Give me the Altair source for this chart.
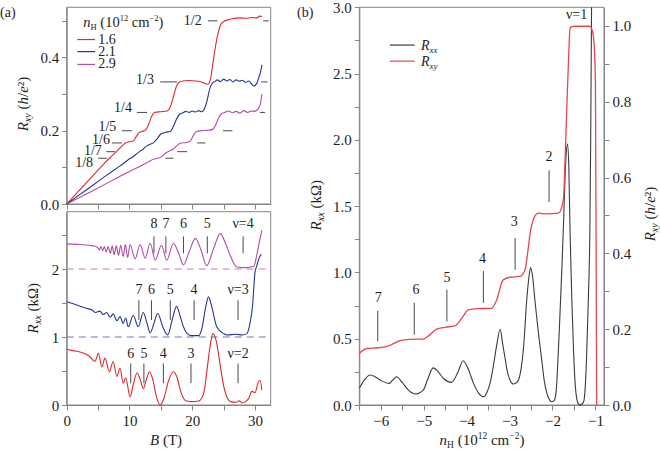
import altair as alt
import pandas as pd

FONT = "Liberation Serif"
AXC = "#858585"
TXT = "#1e1e1e"
RED = "#e3262c"
BLUE = "#283597"
PURP = "#b04ca6"
BLK = "#3b3b3b"
PINK = "#e8464e"
MARK = "#4a4a4a"

# ---------------- data ----------------
# (a) upper: R_xy (h/e^2) vs B (T) for n_H = 1.6, 2.1, 2.9
rxy16_B = [0, 2, 4, 6, 7.0, 7.6, 8.2, 8.8, 9.4, 10.0, 10.6, 11.0, 11.5, 12.0, 12.5, 13.0, 13.5, 14.0, 15.0, 16.0,
           16.5, 17.0, 17.5, 18.0, 18.5, 19.5, 20.5, 21.5, 22.0, 22.5, 22.9, 23.3, 23.7, 24.1, 24.5, 25.0, 25.5,
           26.5, 27.5, 28.5, 29.5, 30.3, 30.8, 31.1]
rxy16_v = [0, 0.037, 0.074, 0.111, 0.128, 0.138, 0.148, 0.158, 0.167, 0.170, 0.172, 0.182, 0.194, 0.198, 0.201,
           0.215, 0.238, 0.250, 0.252, 0.254, 0.265, 0.293, 0.322, 0.333, 0.336, 0.337, 0.336, 0.333, 0.329, 0.327,
           0.340, 0.385, 0.430, 0.465, 0.488, 0.498, 0.502, 0.506, 0.508, 0.507, 0.509, 0.508, 0.513, 0.512]
rxy21_B = [0, 3, 6, 8, 9.0, 9.8, 10.4, 11.0, 11.6, 12.2, 12.7, 13.3, 13.8, 14.4, 15.0, 15.8, 16.5, 17.0, 17.5,
           18.0, 18.5, 19.0, 19.5, 20.0, 20.5, 21.0, 21.5, 22.0, 22.4, 22.8, 23.2, 23.6, 24.0, 24.5, 25.0, 25.5,
           26.0, 26.5, 27.0, 27.5, 28.0, 28.5, 29.0, 29.3, 29.8, 30.3, 30.6, 30.8, 31.1]
rxy21_v = [0, 0.037, 0.074, 0.098, 0.110, 0.121, 0.127, 0.135, 0.143, 0.150, 0.158, 0.163, 0.167, 0.178, 0.191,
           0.196, 0.198, 0.212, 0.232, 0.245, 0.249, 0.253, 0.250, 0.254, 0.251, 0.255, 0.252, 0.262, 0.285,
           0.315, 0.330, 0.334, 0.339, 0.334, 0.341, 0.336, 0.340, 0.333, 0.339, 0.335, 0.338, 0.332, 0.336,
           0.331, 0.322, 0.330, 0.345, 0.355, 0.380]
rxy29_B = [0, 4, 8, 10, 12, 13.0, 13.8, 14.5, 15.2, 15.8, 16.4, 17.0, 17.6, 18.1, 19.0, 19.7, 20.2, 20.7, 21.5,
           22.5, 23.2, 23.7, 24.2, 24.7, 25.2, 25.8, 26.4, 27.0, 27.6, 28.2, 28.8, 29.4, 29.8, 30.4, 30.8, 31.1]
rxy29_v = [0, 0.035, 0.071, 0.089, 0.106, 0.115, 0.122, 0.125, 0.130, 0.140, 0.145, 0.150, 0.160, 0.166, 0.168,
           0.172, 0.188, 0.198, 0.200, 0.201, 0.203, 0.215, 0.235, 0.247, 0.250, 0.254, 0.249, 0.253, 0.248,
           0.255, 0.250, 0.254, 0.253, 0.258, 0.270, 0.300]

# (a) lower: R_xx (kOhm, curves offset by 0, 1, 2) vs B (T)
rxx16_B = [0, 1.0, 2.1, 3.0, 3.7, 4.5, 5.05, 5.6, 6.1, 6.8, 7.4, 8.0, 8.5, 9.0, 9.4, 10.1, 10.6, 11.2, 11.7, 12.2,
           12.7, 13.2, 13.7, 14.3, 14.9, 15.5, 16.2, 17.0, 17.6, 18.1, 18.6, 19.1, 20.0, 21.0, 21.5, 21.9, 22.4,
           22.9, 23.3, 23.8, 24.5, 25.0, 25.5, 26.1, 27.0, 27.5, 28.0, 28.5, 29.0, 29.5, 30.0, 30.5, 30.8, 31.1]
rxx16_v = [0.82, 0.80, 0.78, 0.75, 0.71, 0.64, 0.76, 0.56, 0.69, 0.49, 0.64, 0.42, 0.54, 0.32, 0.40, 0.12, 0.30,
           0.47, 0.38, 0.24, 0.38, 0.49, 0.38, 0.12, 0.0, 0.10, 0.35, 0.49, 0.40, 0.22, 0.10, 0.06, 0.05, 0.06,
           0.10, 0.20, 0.55, 0.90, 1.05, 0.95, 0.56, 0.28, 0.12, 0.05, 0.04, 0.06, 0.03, 0.05, 0.10, 0.20, 0.18,
           0.33, 0.36, 0.22]
rxx21_B = [0, 1.6, 3.2, 4.0, 4.6, 5.3, 5.8, 6.4, 6.9, 7.4, 8.0, 8.5, 9.0, 9.4, 9.8, 10.6, 11.4, 12.2, 12.8, 13.3,
           13.9, 14.5, 15.3, 16.1, 16.8, 17.5, 18.1, 18.6, 19.2, 19.9, 21.0, 21.6, 22.1, 22.6, 23.1, 23.9, 25.0,
           25.5, 27.0, 28.0, 28.7, 29.2, 29.6, 30.0, 30.3, 30.6, 31.0]
rxx21_v = [1.52, 1.47, 1.42, 1.40, 1.36, 1.38, 1.33, 1.36, 1.29, 1.34, 1.24, 1.30, 1.20, 1.28, 1.15, 1.32, 1.15,
           1.36, 1.20, 1.06, 1.20, 1.35, 1.15, 1.03, 1.25, 1.45, 1.30, 1.15, 1.05, 1.02, 1.02, 1.15, 1.42, 1.59,
           1.45, 1.15, 1.05, 1.03, 1.04, 1.03, 1.05, 1.20, 1.45, 1.95, 2.05, 2.15, 2.22]
rxx29_B = [0, 2.1, 4.2, 4.9, 5.2, 5.45, 5.75, 6.0, 6.3, 6.6, 6.95, 7.25, 7.55, 7.9, 8.25, 8.6, 9.0, 9.35, 9.7,
           10.1, 10.9, 11.7, 12.5, 13.3, 14.1, 15.1, 15.95, 17.0, 17.8, 18.6, 19.5, 20.5, 21.4, 22.3, 23.4, 24.45,
           25.3, 26.0, 27.1, 28.5, 29.8, 30.3, 30.7, 31.1]
rxx29_v = [2.37, 2.36, 2.34, 2.32, 2.28, 2.33, 2.27, 2.33, 2.25, 2.33, 2.23, 2.34, 2.21, 2.34, 2.20, 2.35, 2.18,
           2.36, 2.17, 2.36, 2.15, 2.36, 2.16, 2.38, 2.13, 2.35, 2.13, 2.38, 2.24, 2.06, 2.25, 2.45, 2.28, 2.05,
           2.30, 2.52, 2.38, 2.21, 2.03, 2.02, 2.04, 2.21, 2.40, 2.57]

# fraction labels and plateau markers (upper a)
frac_text = ["1/2", "1/3", "1/4", "1/5", "1/6", "1/7", "1/8"]
frac_val = [0.5, 1 / 3, 0.25, 0.2, 1 / 6, 1 / 7, 0.125]
frac_lab_B = [21.5, 13.9, 10.4, 7.9, 6.9, 5.6, 4.2]
frac_lab_v = [0.500, 0.338, 0.261, 0.211, 0.176, 0.145, 0.113]
frac_l0 = [22.5, 14.9, 11.2, 8.8, 7.2, 6.3, 5.0]
frac_l1 = [24.0, 17.6, 12.8, 10.4, 8.8, 7.7, 6.4]
frac_r0 = [31.3, 31.0, 30.8, 24.9, 20.8, 17.6, 15.7]
frac_r1 = [32.2, 32.0, 31.6, 26.4, 22.1, 19.2, 17.0]

# filling factor labels (lower a)
nu29_B = [13.9, 15.8, 18.6, 22.4, 28.1]
nu29_t = ["8", "7", "6", "5", "ν=4"]
nu21_B = [11.5, 13.5, 16.5, 20.3, 27.3]
nu21_t = ["7", "6", "5", "4", "ν=3"]
nu16_B = [10.2, 12.3, 15.4, 19.8, 27.3]
nu16_t = ["6", "5", "4", "3", "ν=2"]

# (b) R_xx (kOhm) and R_xy (h/e^2) vs n_H (1e12 cm^-2)
b_n_xx = [-6.5, -6.38, -6.25, -6.14, -6.02, -5.80, -5.72, -5.63, -5.50, -5.35, -5.20, -5.01, -4.90, -4.78, -4.66,
          -4.54, -4.35, -4.20, -4.08, -3.96, -3.84, -3.72, -3.61, -3.53, -3.45, -3.38, -3.30, -3.22, -3.16, -3.11,
          -3.05, -2.99, -2.91, -2.83, -2.75, -2.67, -2.60, -2.55, -2.51, -2.46, -2.41, -2.33, -2.25, -2.19, -2.13,
          -2.06, -2.02, -1.97, -1.94, -1.91, -1.88, -1.83, -1.78, -1.74, -1.71, -1.68, -1.65, -1.62, -1.59, -1.55,
          -1.51, -1.47, -1.43, -1.40, -1.36, -1.28, -1.24, -1.20, -1.16, -1.13, -1.11, -1.09]
b_rxx = [0.126, 0.19, 0.226, 0.215, 0.19, 0.163, 0.19, 0.213, 0.17, 0.11, 0.083, 0.113, 0.2, 0.28, 0.25, 0.2,
         0.171, 0.25, 0.334, 0.27, 0.163, 0.09, 0.063, 0.093, 0.17, 0.29, 0.45, 0.571, 0.46, 0.364, 0.25, 0.189,
         0.158, 0.17, 0.239, 0.45, 0.792, 0.96, 1.036, 0.96, 0.792, 0.55, 0.339, 0.18, 0.088, 0.035, 0.025, 0.03,
         0.05, 0.12, 0.29, 0.65, 1.04, 1.4, 1.7, 1.9, 1.968, 1.8, 1.295, 0.8, 0.415, 0.15, 0.038, 0.01, 0.0, 0.02,
         0.12, 0.415, 0.85, 1.295, 2.0, 3.0]
b_n_xy = [-6.5, -6.33, -6.06, -5.82, -5.68, -5.55, -5.32, -5.01, -4.86, -4.70, -4.50, -4.27, -4.11, -3.96, -3.77,
          -3.42, -3.30, -3.15, -2.99, -2.76, -2.64, -2.58, -2.52, -2.45, -2.33, -2.13, -1.86, -1.79, -1.74, -1.70,
          -1.66, -1.62, -1.59, -1.55, -1.48, -1.30, -1.13, -1.08, -1.05, -1.02, -1.00, -0.99, -0.98, -0.97]
b_rxy = [0.136, 0.149, 0.151, 0.156, 0.163, 0.170, 0.173, 0.174, 0.185, 0.200, 0.205, 0.209, 0.229, 0.251, 0.254,
         0.255, 0.277, 0.330, 0.337, 0.339, 0.356, 0.40, 0.453, 0.488, 0.506, 0.504, 0.506, 0.52, 0.55, 0.67,
         0.805, 0.93, 0.994, 0.998, 0.999, 0.999, 0.999, 0.99, 0.975, 0.93, 0.85, 0.6, 0.3, 0.0]
b_lab_t = ["7", "6", "5", "4", "3", "2"]
b_lab_n = [-6.06, -5.18, -4.46, -3.63, -2.89, -2.08]
b_lab_v = [0.81, 0.87, 0.96, 1.10, 1.38, 1.87]
b_tick_n = [-6.07, -5.22, -4.46, -3.61, -2.87, -2.08]
b_tick_top = [0.71, 0.77, 0.87, 1.01, 1.26, 1.77]
b_tick_bot = [0.48, 0.53, 0.63, 0.77, 1.02, 1.53]

# ---------------- layout (pixel ranges of each panel) ----------------
PANEL = {
    "at": {"x": ([0, 32.5], [66.7, 270.7]), "y": ([0, 0.537], [204, 7.3])},
    "ab": {"x": ([0, 32.5], [66.7, 270.7]), "y": ([0, 2.843], [405, 211.7])},
    "bl": {"x": ([-6.5, -0.8], [359.3, 604]), "y": ([0, 3.0], [405, 7.3])},
    "br": {"x": ([-6.5, -0.8], [359.3, 604]), "y": ([0, 1.049], [405, 7.3])},
}
W, H = 660, 450


def scale(p, c):
    d, r = PANEL[p][c]
    return alt.Scale(domain=d, range=r, nice=False, zero=False)


def enc(p, x="x", y="y", xaxis=None, yaxis=None, x2=None, y2=None):
    e = {"x": alt.X(x, type="quantitative", scale=scale(p, "x"), axis=xaxis),
         "y": alt.Y(y, type="quantitative", scale=scale(p, "y"), axis=yaxis)}
    if x2:
        e["x2"] = alt.X2(x2)
    if y2:
        e["y2"] = alt.Y2(y2)
    return e


def axis(orient, offset, values, expr=None, labels=True):
    kw = dict(orient=orient, offset=offset, values=values, title=None, grid=False,
              domainColor=AXC, domainWidth=1, tickColor=AXC, tickSize=5, tickWidth=1,
              labelFont=FONT, labelFontSize=15, labelColor=TXT, labelPadding=3,
              labels=labels, labelFlush=False, labelOverlap=False)
    if expr:
        kw["labelExpr"] = expr
    return alt.Axis(**kw)


def curve(p, xs, ys, color, w=1.1, interp="monotone", yaxis=None):
    df = pd.DataFrame({"x": xs, "y": ys, "o": list(range(len(xs)))})
    return alt.Chart(df).mark_line(color=color, strokeWidth=w, interpolate=interp).encode(
        **enc(p, yaxis=yaxis), order="o:Q")


def segs(p, x0, x1, y0, y1, color, w=1.0, dash=None):
    df = pd.DataFrame({"x": x0, "x1": x1, "y": y0, "y1": y1})
    kw = dict(color=color, strokeWidth=w)
    if dash:
        kw["strokeDash"] = dash
    return alt.Chart(df).mark_rule(**kw).encode(**enc(p, x2="x1", y2="y1"))


def labels(p, xs, ys, ts, size=13, color=TXT, align="center", baseline="middle"):
    df = pd.DataFrame({"x": xs, "y": ys, "t": ts})
    return alt.Chart(df).mark_text(font=FONT, fontSize=size, color=color, align=align,
                                   baseline=baseline).encode(**enc(p), text="t:N")


def frame(p, xaxis=None, yaxis=None):
    xd, yd = PANEL[p]["x"][0], PANEL[p]["y"][0]
    df = pd.DataFrame({"x": [xd[0]], "x1": [xd[1]], "y": [yd[0]], "y1": [yd[1]]})
    return alt.Chart(df).mark_rect(fillOpacity=0, stroke=AXC, strokeWidth=1).encode(
        **enc(p, x2="x1", y2="y1", xaxis=xaxis, yaxis=yaxis))


REG = {" ": 250, "(": 333, ")": 333, ".": 250, "/": 278, "=": 564, "²": 300, "−": 564, "T": 611, "H": 722,
       "Ω": 768, "k": 500, "c": 444, "m": 778, "h": 500, "e": 444, "x": 500, "y": 500, "R": 667, "B": 667, "n": 500}
ITA = {"R": 611, "B": 611, "n": 500, "x": 444, "y": 444, "h": 500, "e": 444, "/": 278}


def tw(s, size, it):
    t = ITA if it else REG
    return sum(t.get(ch, REG.get(ch, 500)) for ch in s) * size / 1000.0


ONE = pd.DataFrame({"a": [0]})


def rich(px, py, parts, angle=0, center=True, baseline="alphabetic", color=TXT):
    widths = [tw(t, s, it) for t, s, it, sh in parts]
    pos = -sum(widths) / 2.0 if center else 0.0
    out = []
    for (t, s, it, sh), w in zip(parts, widths):
        lead = len(t) - len(t.lstrip(" "))
        shown = t.lstrip(" ")
        kw = dict(text=shown, font=FONT, fontSize=s, fontStyle="italic" if it else "normal", align="left",
                  baseline=baseline, dx=pos + lead * 0.25 * s, dy=sh, color=color)
        if angle:
            kw["angle"] = angle
        out.append(alt.Chart(ONE).mark_text(**kw).encode(x=alt.value(px), y=alt.value(py)))
        pos += w
    return out


layers = []

# ---- (a) upper ----
layers.append(frame("at",
                    xaxis=axis("bottom", 204 - H, [0, 5, 10, 15, 20, 25, 30], labels=False),
                    yaxis=axis("left", -66.7, [0, 0.1, 0.2, 0.3, 0.4, 0.5],
                               expr="indexof([0,0.2,0.4], datum.value) >= 0 ? format(datum.value, '.1f') : ''")))
layers.append(segs("at", frac_l0, frac_l1, frac_val, frac_val, MARK, 1.0))
layers.append(segs("at", frac_r0, frac_r1, frac_val, frac_val, MARK, 1.0))
layers.append(labels("at", frac_lab_B, frac_lab_v, frac_text, size=14, align="right"))
layers.append(curve("at", rxy29_B, rxy29_v, PURP))
layers.append(curve("at", rxy21_B, rxy21_v, BLUE))
layers.append(curve("at", rxy16_B, rxy16_v, RED))
# legend (a)
leg_v = [0.449, 0.416, 0.381]
layers.append(segs("at", [1.69], [4.51], [leg_v[0]], [leg_v[0]], RED, 1.2))
layers.append(segs("at", [1.69], [4.51], [leg_v[1]], [leg_v[1]], BLUE, 1.2))
layers.append(segs("at", [1.69], [4.51], [leg_v[2]], [leg_v[2]], PURP, 1.2))
layers.append(labels("at", [5.04, 5.04, 5.04], leg_v, ["1.6", "2.1", "2.9"], size=14, align="left"))
layers += rich(83.3, 26.5, [("n", 14.5, True, 0), ("H", 8.5, False, 3), (" (10", 14.5, False, 0),
                            ("12", 8.5, False, -6), (" cm", 14.5, False, 0), ("−2", 8.5, False, -6),
                            (")", 14.5, False, 0)], center=False)

# ---- (a) lower ----
layers.append(frame("ab",
                    xaxis=axis("bottom", 405 - H, [0, 5, 10, 15, 20, 25, 30],
                               expr="datum.value % 10 == 0 ? format(datum.value, 'd') : ''"),
                    yaxis=axis("left", -66.7, [0, 0.5, 1, 1.5, 2, 2.5],
                               expr="datum.value % 1 == 0 ? format(datum.value, 'd') : ''")))
layers.append(segs("ab", [0], [32.5], [1], [1], "#6f74b8", 1.0, dash=[7, 5]))
layers.append(segs("ab", [0], [32.5], [2], [2], "#c77bc0", 1.0, dash=[7, 5]))
layers.append(segs("ab", nu29_B, nu29_B, [2.48] * 5, [2.23] * 5, MARK, 1.0))
layers.append(segs("ab", nu21_B, nu21_B, [1.54] * 5, [1.25] * 5, MARK, 1.0))
layers.append(segs("ab", nu16_B, nu16_B, [0.61] * 5, [0.32] * 5, MARK, 1.0))
layers.append(labels("ab", nu29_B, [2.66] * 5, nu29_t, size=14))
layers.append(labels("ab", nu21_B, [1.69] * 5, nu21_t, size=14))
layers.append(labels("ab", nu16_B, [0.75] * 5, nu16_t, size=14))
layers.append(curve("ab", rxx29_B, rxx29_v, PURP))
layers.append(curve("ab", rxx21_B, rxx21_v, BLUE))
layers.append(curve("ab", rxx16_B, rxx16_v, RED))

# ---- (b) ----
layers.append(frame("bl",
                    xaxis=axis("bottom", 405 - H, [-6.5, -6, -5.5, -5, -4.5, -4, -3.5, -3, -2.5, -2, -1.5, -1],
                               expr="datum.value % 1 == 0 ? format(datum.value, 'd') : ''"),
                    yaxis=axis("left", -359.3, [0, 0.25, 0.5, 0.75, 1, 1.25, 1.5, 1.75, 2, 2.25, 2.5, 2.75, 3],
                               expr="round(datum.value * 4) % 2 == 0 ? format(datum.value, '.1f') : ''")))
layers.append(segs("bl", b_tick_n, b_tick_n, b_tick_top, b_tick_bot, MARK, 1.0))
layers.append(labels("bl", b_lab_n, b_lab_v, b_lab_t, size=14))
layers.append(labels("bl", [-1.44], [2.94], ["ν=1"], size=14))
layers.append(curve("bl", b_n_xx, b_rxx, BLK, 1.1))
layers.append(curve("br", b_n_xy, b_rxy, PINK, 1.3,
                    yaxis=axis("right", 604 - W, [0, 0.1, 0.2, 0.3, 0.4, 0.5, 0.6, 0.7, 0.8, 0.9, 1.0],
                               expr="round(datum.value * 10) % 2 == 0 ? format(datum.value, '.1f') : ''")))
# legend (b)
layers.append(segs("bl", [-5.79], [-5.21], [2.715], [2.715], BLK, 1.2))
layers.append(segs("bl", [-5.79], [-5.21], [2.594], [2.594], PINK, 1.2))
layers += rich(421, 49.5, [("R", 14, True, 0), ("xx", 9, True, 3)], center=False)
layers += rich(421, 65.5, [("R", 14, True, 0), ("xy", 9, True, 3)], center=False)

# ---- axis titles & panel letters ----
layers += rich(28, 104, [("R", 15, True, 0), ("xy", 10, True, 3), (" (", 15, False, 0), ("h", 15, True, 0),
                         ("/", 15, False, 0), ("e", 15, True, 0), ("²", 15, False, 0), (")", 15, False, 0)],
               angle=270)
layers += rich(38, 308, [("R", 15, True, 0), ("xx", 10, True, 3), (" (kΩ)", 15, False, 0)], angle=270)
layers += rich(166, 445, [("B", 15, True, 0), (" (T)", 15, False, 0)])
layers += rich(321, 205, [("R", 15, True, 0), ("xx", 10, True, 3), (" (kΩ)", 15, False, 0)], angle=270)
layers += rich(655, 214, [("R", 15, True, 0), ("xy", 10, True, 3), (" (", 15, False, 0), ("h", 15, True, 0),
                          ("/", 15, False, 0), ("e", 15, True, 0), ("²", 15, False, 0), (")", 15, False, 0)],
               angle=270)
layers += rich(482, 445, [("n", 15, True, 0), ("H", 9.5, False, 2.5), (" (10", 15, False, 0),
                          ("12", 9.5, False, -6), (" cm", 15, False, 0), ("−2", 9.5, False, -6),
                          (")", 15, False, 0)])
layers += rich(0, 17, [("(a)", 14, False, 0)], center=False)
layers += rich(297, 17, [("(b)", 14, False, 0)], center=False)

chart = alt.layer(*layers).resolve_scale(x="independent", y="independent").properties(
    width=W, height=H, autosize=alt.AutoSizeParams(type="none"), padding=0
).configure_view(stroke=None).configure_axis(labelFont=FONT, titleFont=FONT).configure_text(font=FONT)

chart.save("out.html", embed_options={"renderer": "svg", "actions": False})
